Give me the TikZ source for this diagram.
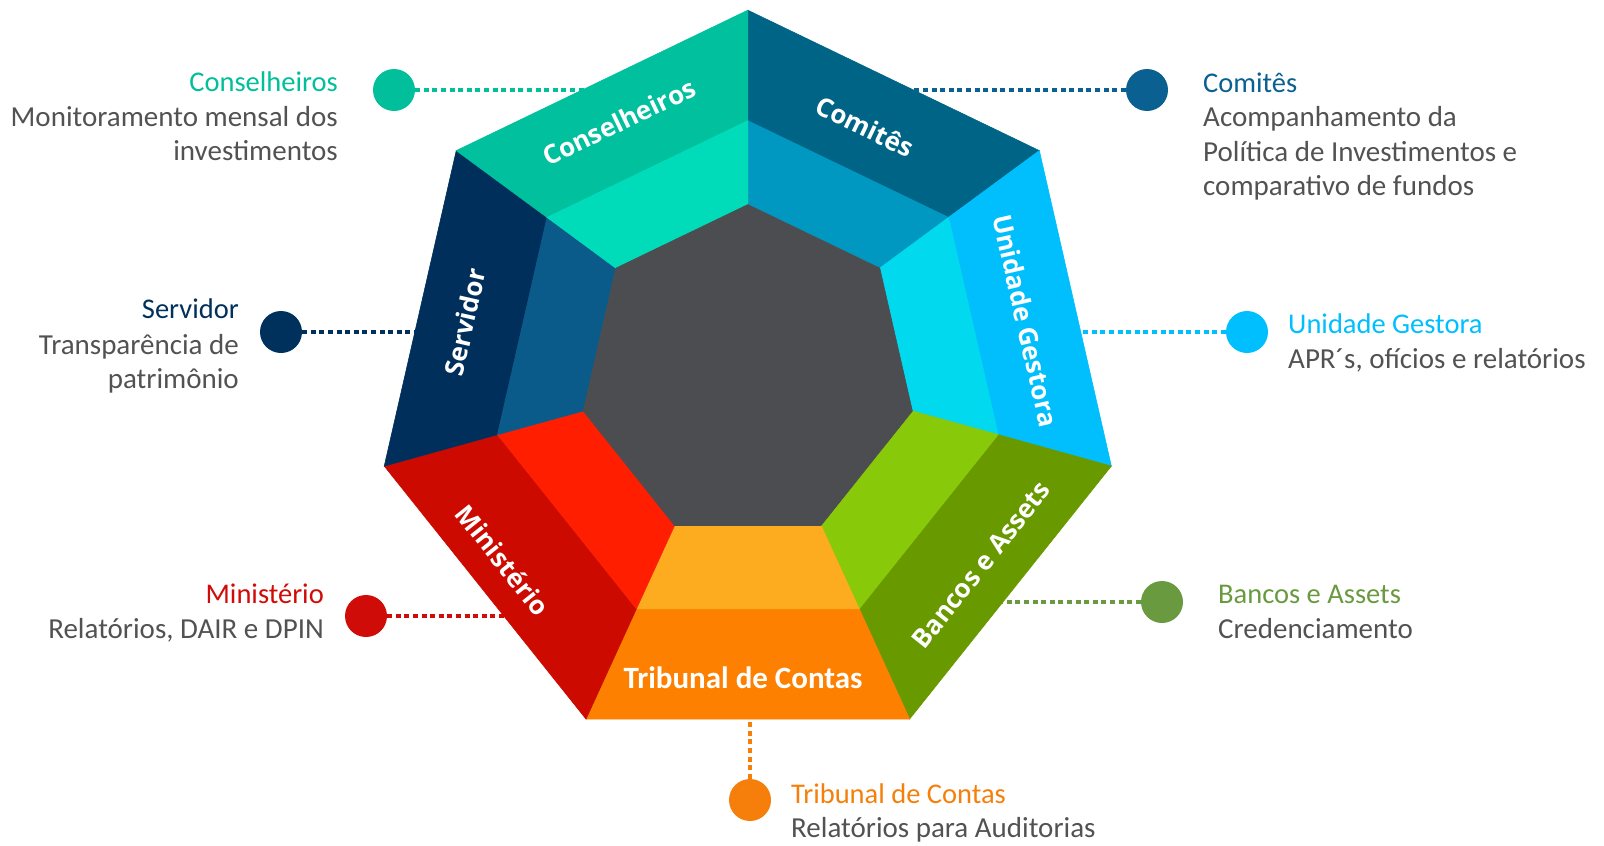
\documentclass[tikz,border=0pt]{standalone}
\usepackage{fontspec}
\setmainfont{Carlito}
\newfontfamily\osans{Open Sans}
\usetikzlibrary{calc}
\definecolor{consO}{HTML}{00C09E}
\definecolor{consI}{HTML}{00DCB9}
\definecolor{comO}{HTML}{006487}
\definecolor{comI}{HTML}{0097C0}
\definecolor{uniO}{HTML}{00BFFC}
\definecolor{uniI}{HTML}{00D9EE}
\definecolor{banO}{HTML}{689A00}
\definecolor{banI}{HTML}{88C90A}
\definecolor{triO}{HTML}{FE8000}
\definecolor{triI}{HTML}{FDAB1F}
\definecolor{minO}{HTML}{CC0A00}
\definecolor{minI}{HTML}{FF1E00}
\definecolor{serO}{HTML}{002F5B}
\definecolor{serI}{HTML}{0A5A8A}
\definecolor{core}{HTML}{4C4D50}
\definecolor{descgray}{HTML}{525252}
\definecolor{consT}{HTML}{00BF9A}
\definecolor{comT}{HTML}{0A6090}
\definecolor{serT}{HTML}{00305C}
\definecolor{uniT}{HTML}{00BFFF}
\definecolor{minT}{HTML}{D00C08}
\definecolor{banT}{HTML}{6A9A40}
\definecolor{triT}{HTML}{F57F0A}
\begin{document}
\begin{tikzpicture}[x=1pt,y=-1pt,
  bandlbl/.style={text=white, inner sep=0pt, font=\osans\bfseries\fontsize{26}{30}\selectfont},
  title/.style={inner sep=0pt, font=\fontsize{28.5}{34.5}\selectfont},
  desc/.style={inner sep=0pt, text=descgray, font=\fontsize{29}{34.5}\selectfont},
  dotc/.style={circle, minimum size=42pt, inner sep=0pt},
  dotline/.style={line width=4pt, dash pattern=on 5pt off 3.6pt}]
\useasboundingbox (0,0) rectangle (1604,846);
\coordinate (O1) at (747.8,383.1);
\coordinate (O2) at (747.8,377.5);
\coordinate (O3) at (747.8,373.4);
\foreach \k in {0,...,7}{
  \coordinate (o\k) at ($(O1)+({372.9*cos(-90+\k*360/7)},{372.9*sin(-90+\k*360/7)})$);
  \coordinate (m\k) at ($(O2)+({256.8*cos(-90+\k*360/7)},{256.8*sin(-90+\k*360/7)})$);
  \coordinate (i\k) at ($(O3)+({168.8*cos(-90+\k*360/7)},{168.8*sin(-90+\k*360/7)})$);
}
% circles
\node[dotc, fill=consT] (ccons) at (394,90) {};
\node[dotc, fill=comT] (ccom) at (1147,90) {};
\node[dotc, fill=serT] (cser) at (281,332) {};
\node[dotc, fill=uniT] (cuni) at (1247,332) {};
\node[dotc, fill=minT] (cmin) at (366,616) {};
\node[dotc, fill=banT] (cban) at (1162,602) {};
\node[dotc, fill=triT] (ctri) at (750,800) {};
% connector ends
\coordinate (econs) at (600,90);
\coordinate (ecom) at (895,90);
\coordinate (eser) at (430,332);
\coordinate (euni) at (1065,332);
\coordinate (emin) at (515,616);
\coordinate (eban) at (985,602);
\coordinate (etri) at (750,705);
\draw[dotline, consT] (ccons) -- (econs);
\draw[dotline, comT] (ccom) -- (ecom);
\draw[dotline, serT] (cser) -- (eser);
\draw[dotline, uniT] (cuni) -- (euni);
\draw[dotline, minT] (cmin) -- (emin);
\draw[dotline, banT] (cban) -- (eban);
\draw[dotline, triT] (ctri) -- (etri);
% heptagon
\foreach \j/\co/\ci in {0/comO/comI,1/uniO/uniI,2/banO/banI,3/triO/triI,4/minO/minI,5/serO/serI,6/consO/consI}{
  \pgfmathtruncatemacro\n{\j+1}
  \fill[\co, draw=\co, line width=0.6pt] (o\j) -- (o\n) -- (m\n) -- (m\j) -- cycle;
  \fill[\ci, draw=\ci, line width=0.6pt] (m\j) -- (m\n) -- (i\n) -- (i\j) -- cycle;
}
\fill[core, draw=core, line width=0.6pt] (i0) -- (i1) -- (i2) -- (i3) -- (i4) -- (i5) -- (i6) -- cycle;
% band labels
\node[bandlbl, rotate=25.71] (lcons) at (619,122) {Conselheiros};
\node[bandlbl, rotate=-25.71] (lcom) at (865,126.5) {Comitês};
\node[bandlbl, rotate=-77.14] (luni) at (1025.7,320.7) {Unidade Gestora};
\node[bandlbl, rotate=51.43] (lban) at (981,565) {Bancos e Assets};
\node[bandlbl, rotate=-51.43] (lmin) at (503,560) {Ministério};
\node[bandlbl, rotate=77.14] (lser) at (465,322) {Servidor};
\node[text=white, inner sep=0pt, font=\bfseries\fontsize{31}{35}\selectfont] (ltri) at (743,678) {Tribunal de Contas};
% side texts
\node[title, text=consT, anchor=base east] (tcons) at (338,91.7) {Conselheiros};
\node[desc, anchor=base east] (dcons) at (338,126) {\begin{tabular}[t]{@{}r@{}}Monitoramento mensal dos\\investimentos\end{tabular}};
\node[title, text=comT, anchor=base west] (tcom) at (1203,92.7) {Comitês};
\node[desc, anchor=base west] (dcom) at (1203,126.5) {\begin{tabular}[t]{@{}l@{}}Acompanhamento da\\Política de Investimentos e\\comparativo de fundos\end{tabular}};
\node[title, text=serT, anchor=base east] (tser) at (239,318) {Servidor};
\node[desc, anchor=base east] (dser) at (239,354) {\begin{tabular}[t]{@{}r@{}}Transparência de\\patrimônio\end{tabular}};
\node[title, text=uniT, anchor=base west] (tuni) at (1288,333) {Unidade Gestora};
\node[desc, anchor=base west] (duni) at (1288,368) {APR´s, ofícios e relatórios};
\node[title, text=minT, anchor=base east] (tmin) at (324,603) {Ministério};
\node[desc, anchor=base east] (dmin) at (324,638) {Relatórios, DAIR e DPIN};
\node[title, text=banT, anchor=base west] (tban) at (1218,603) {Bancos e Assets};
\node[desc, anchor=base west] (dban) at (1218,638) {Credenciamento};
\node[title, text=triT, anchor=base west] (ttri) at (791,803.5) {Tribunal de Contas};
\node[desc, anchor=base west] (dtri) at (791,837.5) {Relatórios para Auditorias};
\end{tikzpicture}
\end{document}
